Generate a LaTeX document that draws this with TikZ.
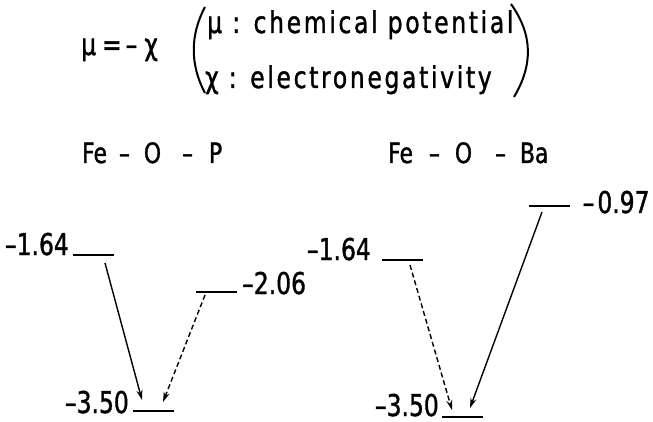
\documentclass[tikz,border=0pt]{standalone}
\usepackage{fontspec}
\setmainfont[FakeStretch=0.78,FakeBold=1.2]{DejaVu Sans}
\newfontfamily\spacedfont[FakeStretch=0.78,FakeBold=1.2,LetterSpace=9]{DejaVu Sans}
\usetikzlibrary{arrows.meta}

\begin{document}
\begin{tikzpicture}[x=1pt,y=-1pt,font=\fontsize{30}{34}\selectfont,
    level/.style={minimum width=41pt,minimum height=0pt,inner sep=0pt,outer sep=0pt},
    levelline/.style={line width=2pt},
    value/.style={inner sep=0pt},
    header/.style={value,anchor=base west},
    jump/.style={line width=1.4pt,-{Stealth[length=10pt,width=6pt]}},
    hop/.style={jump,dash pattern=on 5pt off 3pt}]
    \useasboundingbox (0,0) rectangle (653,422);
    % definitions on top
    \node[header] (rel) at (81,55) {μ\hspace{6pt}=\hspace{4pt}–\hspace{7pt}χ};
    \node[header] (mu) at (207,33) {\spacedfont μ : chemical potential};
    \node[header] (chi) at (205,88) {\spacedfont χ : electronegativity};
    \draw[line width=2pt] (205,7) .. controls (190,35) and (190,65) .. (205,93);
    \draw[line width=2pt] (511,4) .. controls (533,35) and (533,65) .. (514,97);
    % systems
    \node[header,font=\fontsize{28}{32}\selectfont] (sysp) at (82,163) {Fe\hspace{12pt}–\hspace{14pt}O\hspace{21pt}–\hspace{16pt}P};
    \node[header,font=\fontsize{28}{32}\selectfont] (sysb) at (388,163) {Fe\hspace{16pt}–\hspace{15pt}O\hspace{23pt}–\hspace{14pt}Ba};
    % energy levels
    \foreach \name/\x/\y in {pa/93.5/255,pb/216.5/292,pc/153.5/411,ba/402.5/260,bb/549/206,bc/462.5/417}
        \node[level] (\name) at (\x,\y) {};
    \foreach \name in {pa,pb,pc,ba,bb,bc} \draw[levelline] (\name.west) -- (\name.east);
    \node[value,anchor=base east] (vpa) at ([shift={(-4,0)}]pa.west) {–1.64};
    \node[value,anchor=base west] (vpb) at ([shift={(5,2)}]pb.east) {–2.06};
    \node[value,anchor=base east] (vpc) at ([shift={(-4,2)}]pc.west) {–3.50};
    \node[value,anchor=base east] (vba) at ([shift={(-11,0)}]ba.west) {–1.64};
    \node[value,anchor=base west] (vbb) at ([shift={(13,7)}]bb.east) {–\hspace{3pt}0.97};
    \node[value,anchor=base east] (vbc) at ([shift={(-3,-1)}]bc.west) {–3.50};
    % transfers
    \draw[jump] ([shift={(11.5,8)}]pa.center) -- ([shift={(-11.5,-11)}]pc.center);
    \draw[hop] ([shift={(-11.5,3)}]pb.center) -- ([shift={(9.5,-9)}]pc.center);
    \draw[hop] ([shift={(7.5,5)}]ba.center) -- ([shift={(-10.5,-7)}]bc.center);
    \draw[jump] ([shift={(-7,6)}]bb.center) -- ([shift={(7.5,-9)}]bc.center);
\end{tikzpicture}
\end{document}
